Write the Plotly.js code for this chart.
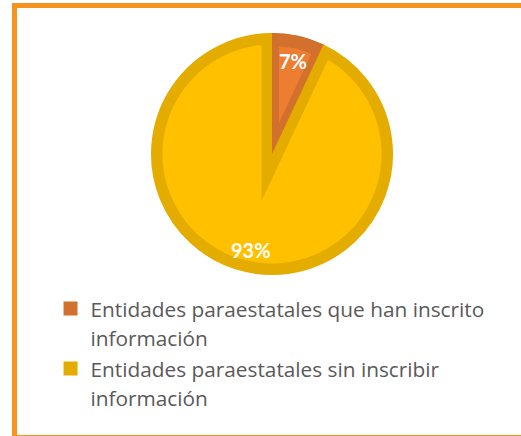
<!DOCTYPE html>
<html><head><meta charset="utf-8">
<script src="https://cdn.plot.ly/plotly-3.0.1.min.js"></script>
<style>
html,body{margin:0;padding:0;background:#fff;overflow:hidden;width:521px;height:436px;}
#frame{position:absolute;left:12px;top:3px;width:560px;height:437px;border:5px solid #F7941E;box-sizing:border-box;}
#chart{position:absolute;left:0;top:0;width:521px;height:436px;}
.pielayer path.surface{stroke-miterlimit:6 !important;stroke-linejoin:miter !important;}
</style></head><body>
<div id="frame"></div><div id="chart"></div>
<script>
const labels = ['Entidades paraestatales que han inscrito<br>información', 'Entidades paraestatales sin inscribir<br>información'];
const values = [7, 93];
const lightColors = ['#ED7D31', '#FFC000'];
const darkColors = ['#D2702D', '#E5AC00'];
const NONE = 'rgba(0,0,0,0)';

const W = 521, H = 436, CX = 272, CY = 154, R = 120;
function dom(h) { return {x: [(CX - h) / W, (CX + h) / W], y: [1 - (CY + h) / H, 1 - (CY - h) / H]}; }

// legend text: glyphs slightly smaller than the legend line pitch
const legendLabels = labels.map(l => l.split('<br>')
  .map(s => '<span style="font-size:20.8px">' + s + '</span>').join('<br>'));

const base = {type: 'pie', labels: legendLabels, values: values, sort: false, direction: 'clockwise', rotation: 0,
  textinfo: 'none', hoverinfo: 'skip', showlegend: false};

const total = values.reduce((a, b) => a + b, 0);
const ring = 10.5;          // inner border width of the yellow slice
const orangeInset = 7;      // inner border width of the orange slice (radial sides)
const halfAng = Math.PI * values[0] / total;
const pullDist = orangeInset / Math.sin(halfAng);
const r5 = (R - 12) - pullDist;
const p5 = pullDist / r5;

const traces = [
  Object.assign({}, base, {domain: dom(R), showlegend: true,
    marker: {colors: darkColors, line: {color: darkColors, width: 2}}}),
  Object.assign({}, base, {domain: dom(R - ring),
    marker: {colors: [NONE, lightColors[1]], line: {width: 0}}}),
  Object.assign({}, base, {domain: dom(R - ring),
    marker: {colors: [NONE, NONE], line: {color: [darkColors[1], NONE], width: [2 * ring, 0]}}}),
  Object.assign({}, base, {domain: dom(R + 1),
    marker: {colors: [darkColors[0], NONE], line: {width: 0}}}),
  Object.assign({}, base, {domain: dom(R - 12), pull: [p5, 0],
    marker: {colors: [lightColors[0], NONE], line: {width: 0}}})
];

// percentage labels placed along each slice's bisector
const annotations = [];
let cum = 0;
values.forEach(v => {
  const mid = 2 * Math.PI * (cum + v / 2) / total;
  cum += v;
  const d = 0.8 * R;
  annotations.push({
    xref: 'paper', yref: 'paper', showarrow: false, xanchor: 'center', yanchor: 'middle',
    x: (CX + d * Math.sin(mid)) / W, y: 1 - (CY - d * Math.cos(mid)) / H + (v > 50 ? -2 / H : -1 / H),
    text: Math.round(100 * v / total) + '%',
    font: {color: '#FFFFFF', family: 'Lato', size: 20, weight: 'bold'}
  });
});

const layout = {
  width: W, height: H, margin: {l: 0, r: 0, t: 0, b: 0},
  paper_bgcolor: 'rgba(0,0,0,0)', plot_bgcolor: 'rgba(0,0,0,0)',
  showlegend: true, annotations: annotations,
  legend: {x: 0.097, y: 0.3404, xanchor: 'left', yanchor: 'top', valign: 'top',
    bgcolor: 'rgba(0,0,0,0)', font: {family: 'Open Sans', size: 22, color: '#595959'}, traceorder: 'normal'}
};
Plotly.newPlot('chart', traces, layout, {staticPlot: true, displayModeBar: false});
</script>
</body></html>
